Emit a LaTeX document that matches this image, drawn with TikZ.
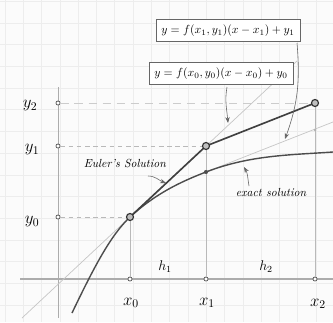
\documentclass[tikz,border=0pt]{standalone}
\usepackage{amsmath}
\usepackage{tikz}
\usetikzlibrary{arrows.meta}

\begin{document}
\begin{tikzpicture}[x=0.03cm, y=-0.03cm,
  gridline/.style={draw=gray!14, line width=0.6pt},
  axis/.style={draw=gray!65, line width=1.1pt},
  guide/.style={draw=gray!55, line width=0.4pt},
  dashguide/.style={draw=gray!55, line width=0.6pt, dash pattern=on 4pt off 3pt},
  tangent/.style={draw=gray!45, line width=0.6pt},
  euler/.style={draw=black!75, line width=1.4pt},
  exact/.style={draw=black!70, line width=1.2pt},
  tickmark/.style={circle, draw=black!70, fill=white, inner sep=0pt, minimum size=3.5pt, line width=0.6pt},
  bigdot/.style={circle, draw=black!80, fill=gray!50, inner sep=0pt, minimum size=6pt, line width=1pt},
  formula/.style={rectangle, draw=black!60, fill=white, inner sep=4.5pt, font=\normalsize},
  note/.style={font=\itshape},
  axlabel/.style={font=\Large},
  pointer/.style={draw=black!60, -{Stealth[length=5pt]}, line width=0.5pt}
]
\useasboundingbox (0,0) rectangle (333,322);
\fill[gray!3] (0,0) rectangle (333,322);
\foreach \i in {0,...,18} \draw[gridline] (5+\i*18.3,0) -- (5+\i*18.3,322);
\foreach \j in {0,...,14} \draw[gridline] (0,1.3+\j*21.7) -- (333,1.3+\j*21.7);

% axes
\coordinate (xleft) at (20,279);
\coordinate (xright) at (333,279);
\coordinate (ytop) at (58,87);
\coordinate (ybottom) at (58,318);
\draw[axis] (xleft) -- (xright);
\draw[axis, line width=0.6pt] (ytop) -- (ybottom);

% points
\node[tickmark] (xzero) at (130,279) {};
\node[tickmark] (xone) at (206,279) {};
\node[tickmark] (xtwo) at (315,279) {};
\node[tickmark] (yzero) at (58,217) {};
\node[tickmark] (yone) at (58,146) {};
\node[tickmark] (ytwo) at (58,103) {};
\coordinate (pzero) at (130,217);
\coordinate (pone) at (206,146);
\coordinate (ptwo) at (315,103);
\coordinate (eone) at (206,172);

\draw[guide] (xzero) -- (pzero);
\draw[guide] (xone) -- (pone);
\draw[guide] (xtwo) -- (ptwo);
\draw[dashguide] (yzero) -- (pzero);
\draw[dashguide] (yone) -- (pone);
\draw[dashguide, draw=gray!40, dash pattern=on 7pt off 5pt] (ytwo) -- (ptwo);

% tangents
\coordinate (tzeroa) at (22,318);
\coordinate (tzerob) at (297,61);
\coordinate (tonea) at (333,122);
\draw[tangent] (tzeroa) -- (tzerob);
\draw[tangent] (eone) -- (tonea);

% exact and Euler
\draw[exact] (72,313) .. controls (95,265) and (111,235) .. (pzero)
  .. controls (155,194) and (180,182) .. (eone)
  .. controls (250,155) and (290,155) .. (333,152);
\draw[euler] (pzero) -- (pone) -- (ptwo);

\node[bigdot] at (pzero) {};
\node[bigdot] at (pone) {};
\node[bigdot] at (ptwo) {};
\node[circle, fill=black!70, inner sep=0pt, minimum size=3.5pt] at (eone) {};
\node[circle, fill=gray!60, inner sep=0pt, minimum size=2.5pt] (tdot) at (315,130) {};

% labels
\node[axlabel] at (30,106) {$y_2$};
\node[axlabel] at (32,150) {$y_1$};
\node[axlabel] at (32,222) {$y_0$};
\node[axlabel] at (131,303) {$x_0$};
\node[axlabel] at (207,303) {$x_1$};
\node[axlabel] at (318,304) {$x_2$};
\node[font=\large] at (165,267) {$h_1$};
\node[font=\large] at (266,267) {$h_2$};

\node[formula] (tanone) at (228,30.5) {$y = f(x_1, y_1)(x - x_1) + y_1$};
\node[formula] (tanzero) at (221,73.5) {$y = f(x_0, y_0)(x - x_0) + y_0$};
\node[note] (eulerlbl) at (125,163) {Euler's Solution};
\node[note] (exactlbl) at (271,192) {exact solution};

\coordinate (hitzero) at (228,123);
\coordinate (hitone) at (285,139);
\coordinate (hiteuler) at (166,183);
\coordinate (hitexact) at (244,167);
\draw[pointer] (227,87) to[out=-100, in=95] (hitzero);
\draw[pointer] (297,43) to[out=-85, in=70] (hitone);
\draw[pointer] (148,176) to[out=0, in=160] (hiteuler);
\draw[pointer] (249,186) to[out=100, in=-60] (hitexact);
\end{tikzpicture}
\end{document}
